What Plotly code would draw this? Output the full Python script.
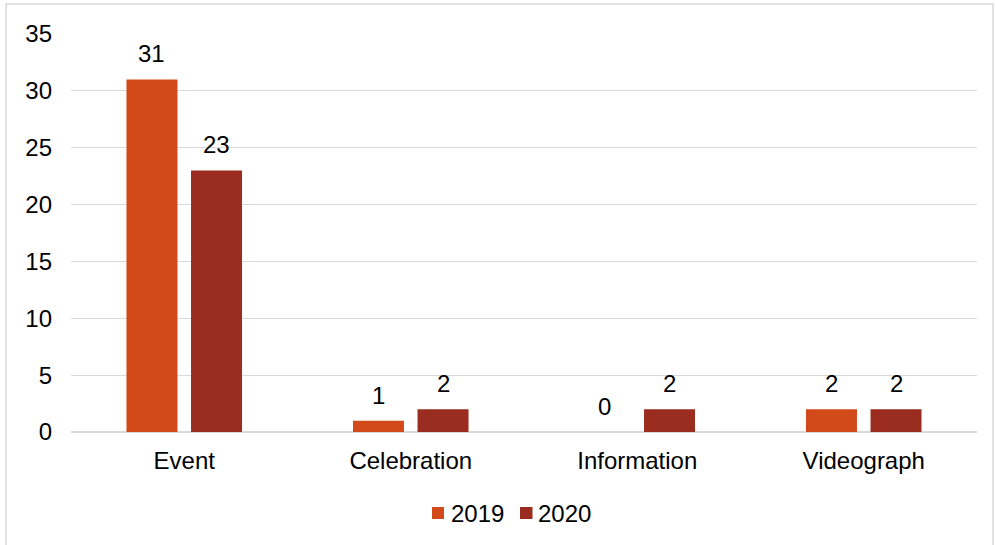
import plotly.graph_objects as go

categories = ["Event", "Celebration", "Information", "Videograph"]
values_2019 = [31, 1, 0, 2]
values_2020 = [23, 2, 2, 2]
series_names = ["2019", "2020"]
y_ticks = [0, 5, 10, 15, 20, 25, 30, 35]

colors = ["#D24A1A", "#9A2D20"]
font_family = "Liberation Sans, Arial, sans-serif"
FS = 24

W, H = 995, 545
ML, MR, MT, MB = 71, 18, 34, 113
PW, PH = W - ML - MR, H - MT - MB


def px_x(X):
    return (X - ML) / PW


def px_y(Y):
    return (H - MB - Y) / PH


fig = go.Figure()
for name, vals, col in zip(series_names, [values_2019, values_2020], colors):
    fig.add_trace(go.Bar(
        x=categories, y=vals, name=name, marker_color=col,
        marker_line_width=0, showlegend=False,
    ))

# value labels above bars, placed through the data axes
bar_offset = 32.3
for vals, sh in zip([values_2019, values_2020], [-bar_offset, bar_offset]):
    for c, v in zip(categories, vals):
        fig.add_annotation(x=c, y=v, xref="x", yref="y", text=str(v),
                           showarrow=False, yanchor="bottom", xanchor="center",
                           xshift=sh, yshift=10,
                           font=dict(size=FS, color="#000000", family=font_family))

fig.update_layout(
    width=W, height=H,
    margin=dict(l=ML, r=MR, t=MT, b=MB),
    paper_bgcolor="white", plot_bgcolor="white",
    barmode="group", bargap=0.43, bargroupgap=0.21,
    font=dict(family=font_family, size=FS, color="#000000"),
    showlegend=False,
    xaxis=dict(showgrid=False, showline=False, ticks="", tickfont=dict(size=FS),
               ticklabelstandoff=12),
    yaxis=dict(range=[0, 35], tickvals=y_ticks, showgrid=True, gridcolor="#D9D9D9",
               gridwidth=1, zeroline=True, zerolinecolor="#D9D9D9", zerolinewidth=2,
               showline=False, ticks="", tickfont=dict(size=FS),
               ticklabelstandoff=18),
)

# outer chart border
fig.add_shape(type="rect", xref="paper", yref="paper",
              x0=px_x(6), x1=px_x(993), y0=px_y(600), y1=px_y(4),
              line=dict(color="#D9D9D9", width=1.5), fillcolor="rgba(0,0,0,0)", layer="below")

# legend (swatches + labels)
legend_items = [(432, 444, 450), (520, 532.5, 537)]
for (sx0, sx1, tx), name, col in zip(legend_items, series_names, colors):
    fig.add_shape(type="rect", xref="paper", yref="paper",
                  x0=px_x(sx0), x1=px_x(sx1), y0=px_y(519), y1=px_y(507),
                  line=dict(width=0), fillcolor=col)
    fig.add_annotation(x=px_x(tx), y=px_y(513), xref="paper", yref="paper",
                       text=name, showarrow=False, xanchor="left", yanchor="middle",
                       xshift=-1, font=dict(size=FS, color="#000000", family=font_family))

fig.write_html("out.html", config={"displayModeBar": False},
               post_script="document.body.style.margin='0px';")
